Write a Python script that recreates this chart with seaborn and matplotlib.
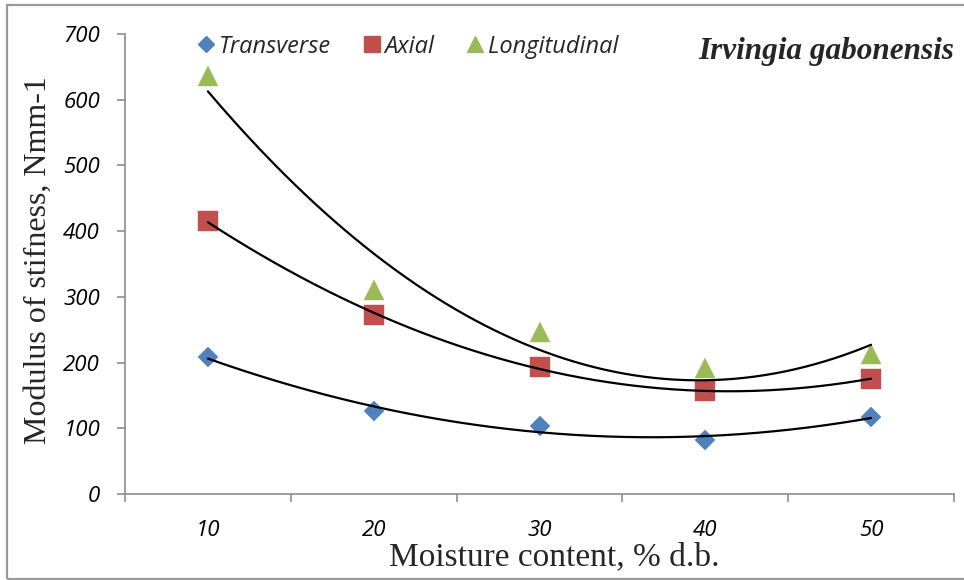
import numpy as np
import pandas as pd
import seaborn as sns
import matplotlib.pyplot as plt
from matplotlib.lines import Line2D
from matplotlib.patches import Rectangle

# Moisture content levels (% d.b.)
moisture = [10, 20, 30, 40, 50]

# Modulus of stiffness (N/mm) for each loading orientation
transverse = [208, 126, 104, 82, 117]
axial = [415, 272, 193, 157, 175]
longitudinal = [636, 310, 247, 192, 213]

series_names = ["Transverse", "Axial", "Longitudinal"]
y_ticks = [0, 100, 200, 300, 400, 500, 600, 700]

colors = {"Transverse": "#4F81BD", "Axial": "#C0504D", "Longitudinal": "#9BBB59"}
markers = {"Transverse": "D", "Axial": "s", "Longitudinal": "^"}
sizes = {"Transverse": 10.2, "Axial": 14, "Longitudinal": 14}

df = pd.DataFrame({
    "moisture": moisture * 3,
    "stiffness": transverse + axial + longitudinal,
    "orientation": sum([[n] * len(moisture) for n in series_names], []),
})

sns.set_theme(style="white")
plt.rcParams["font.family"] = ["DejaVu Sans"]

fig = plt.figure(figsize=(9.64, 5.80), dpi=100)
ax = fig.add_axes([0.1297, 0.1483, 0.8599, 0.7931])

# Second-order polynomial trend line for each series
for name in series_names:
    sub = df[df["orientation"] == name]
    coef = np.polyfit(sub["moisture"], sub["stiffness"], 2)
    xs = np.linspace(10, 50, 200)
    trend = pd.DataFrame({"moisture": xs, "stiffness": np.polyval(coef, xs)})
    sns.lineplot(data=trend, x="moisture", y="stiffness", ax=ax,
                 color="black", linewidth=1.6, zorder=3)

# Measured points
for name in series_names:
    sub = df[df["orientation"] == name]
    ax.plot(sub["moisture"], sub["stiffness"], linestyle="none",
            marker=markers[name], markersize=sizes[name],
            markerfacecolor=colors[name], markeredgecolor=colors[name],
            markeredgewidth=0.3, zorder=2)

ax.set_xlim(5, 55)
ax.set_ylim(0, 700)
ax.set_xlabel("")
ax.set_ylabel("")

tick_font = dict(family=["Open Sans", "DejaVu Sans"], style="italic", size=16)
ax.set_xticks(moisture)
ax.set_xticklabels([str(m) for m in moisture], **tick_font)
ax.set_xticks([5, 15, 25, 35, 45, 55], minor=True)
ax.set_yticks(y_ticks)
ax.set_yticklabels([str(t) for t in y_ticks], **tick_font)

ax.tick_params(axis="x", which="major", length=0, pad=19, colors="black")
ax.tick_params(axis="x", which="minor", length=6, width=1.2, color="#8C8C8C",
               direction="out", bottom=True)
ax.tick_params(axis="y", which="major", length=6, width=1.2, color="#8C8C8C",
               direction="out", left=True, pad=12, labelcolor="black")

for side in ["top", "right"]:
    ax.spines[side].set_visible(False)
for side in ["left", "bottom"]:
    ax.spines[side].set_color("#8C8C8C")
    ax.spines[side].set_linewidth(1.2)

serif = ["Liberation Serif", "DejaVu Serif"]
fig.text(0.5747, 0.040, "Moisture content, % d.b.", ha="center", va="center",
         family=serif, size=24)
fig.text(0.0394, 0.5517, "Modulus of stifness, Nmm-1", ha="center", va="center",
         rotation=90, family=serif, size=23)

ax.text(1.0, 0.962, "Irvingia gabonensis", transform=ax.transAxes,
        ha="right", va="center", family=serif,
        style="italic", weight="bold", size=22.5)

handles = [Line2D([], [], linestyle="none", marker=markers[n],
                  markersize=sizes[n] * 0.8, markerfacecolor=colors[n],
                  markeredgecolor=colors[n]) for n in series_names]
ax.legend(handles, series_names, loc="upper left", bbox_to_anchor=(0.061, 1.045),
          ncol=3, frameon=False, handlelength=0.8, handletextpad=0.15,
          columnspacing=1.3, prop=dict(family=["Open Sans", "DejaVu Sans"],
                                        style="italic", size=17))

# Chart border
fig.patches.append(Rectangle((0.0073, 0.0017), 1.0, 0.989, transform=fig.transFigure,
                             fill=False, edgecolor="#9A9A9A", linewidth=1.6))

fig.savefig("out.png", dpi=100)
